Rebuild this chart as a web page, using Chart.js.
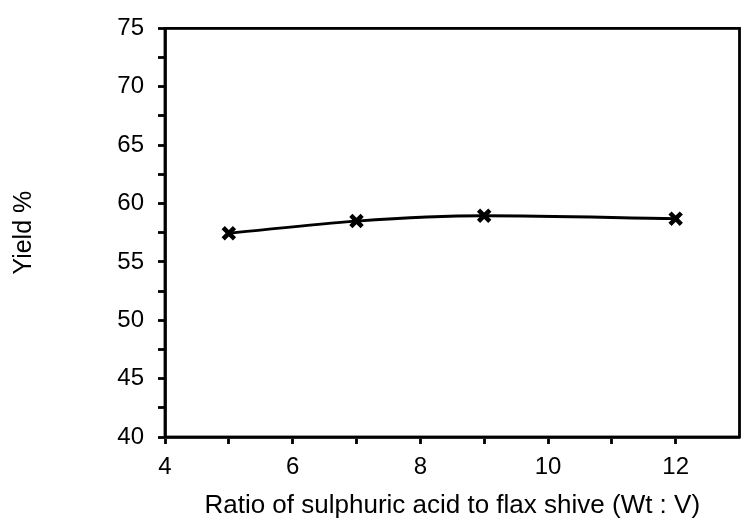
<!DOCTYPE html>
<html>
<head>
<meta charset="utf-8">
<script src="https://cdn.jsdelivr.net/npm/chart.js@4/dist/chart.umd.min.js"></script>
<style>
  html, body { margin: 0; padding: 0; background: #fff; }
  #wrap { width: 752px; height: 522px; }
</style>
</head>
<body>
<div id="wrap"><canvas id="chart" width="752" height="522"></canvas></div>
<script>
// values
const ratios = [5, 7, 9, 12]
const yields = [57.45, 58.5, 58.95, 58.7]

const xTitle = 'Ratio of sulphuric acid to flax shive (Wt : V)'
const yTitle = 'Yield %'

const FONT = 'Arial, "Liberation Sans", Helvetica, sans-serif'

// box round the plot area (top and right sides)
const frame = {
  id: 'frame',
  afterDatasetsDraw (chart) {
    const { ctx, chartArea: a } = chart
    ctx.save()
    ctx.strokeStyle = '#000'
    ctx.lineWidth = 2.8
    ctx.strokeRect(a.left, a.top, a.right - a.left, a.bottom - a.top)
    ctx.restore()
  }
}

const config = {
  type: 'line',
  data: {
    datasets: [
      {
        data: ratios.map((x, i) => ({ x, y: yields[i] })),
        borderColor: '#000',
        borderWidth: 2.8,
        cubicInterpolationMode: 'monotone',
        pointStyle: 'crossRot',
        pointRadius: 8,
        pointBorderWidth: 4.5,
        pointBorderColor: '#000',
        fill: false
      }
    ]
  },
  options: {
    responsive: false,
    animation: false,
    layout: { padding: { left: 0, right: 5, top: 21, bottom: 0 } },
    plugins: { legend: { display: false }, tooltip: { enabled: false } },
    scales: {
      x: {
        type: 'linear',
        min: 4,
        max: 13,
        afterFit: (s) => { s.height = 85 },
        afterBuildTicks: (s) => {
          s.ticks = [4, 5, 6, 7, 8, 9, 10, 11, 12].map(v => ({ value: v }))
        },
        ticks: {
          color: '#000',
          font: { family: FONT, size: 24 },
          padding: 9,
          maxRotation: 0,
          autoSkip: false,
          callback: (v) => (v % 2 === 0 ? v : '')
        },
        grid: { drawOnChartArea: false, color: '#000', tickLength: 7, tickWidth: 2.8 },
        border: { color: '#000', width: 2.8 },
        title: {
          display: true,
          text: xTitle,
          color: '#000',
          font: { family: FONT, size: 26 },
          padding: { top: 0, bottom: 1 }
        }
      },
      y: {
        type: 'linear',
        min: 40,
        max: 75,
        afterFit: (s) => { s.width = 165 },
        ticks: {
          stepSize: 2.5,
          color: '#000',
          font: { family: FONT, size: 24 },
          padding: 14,
          autoSkip: false,
          callback: (v) => (v % 5 === 0 ? v : '')
        },
        grid: { drawOnChartArea: false, color: '#000', tickLength: 7, tickWidth: 2.8 },
        border: { color: '#000', width: 2.8 },
        title: {
          display: true,
          text: yTitle,
          color: '#000',
          font: { family: FONT, size: 25 },
          padding: { top: 9, bottom: 0 }
        }
      }
    }
  },
  plugins: [frame]
}

new Chart(document.getElementById('chart').getContext('2d'), config)
</script>
</body>
</html>
